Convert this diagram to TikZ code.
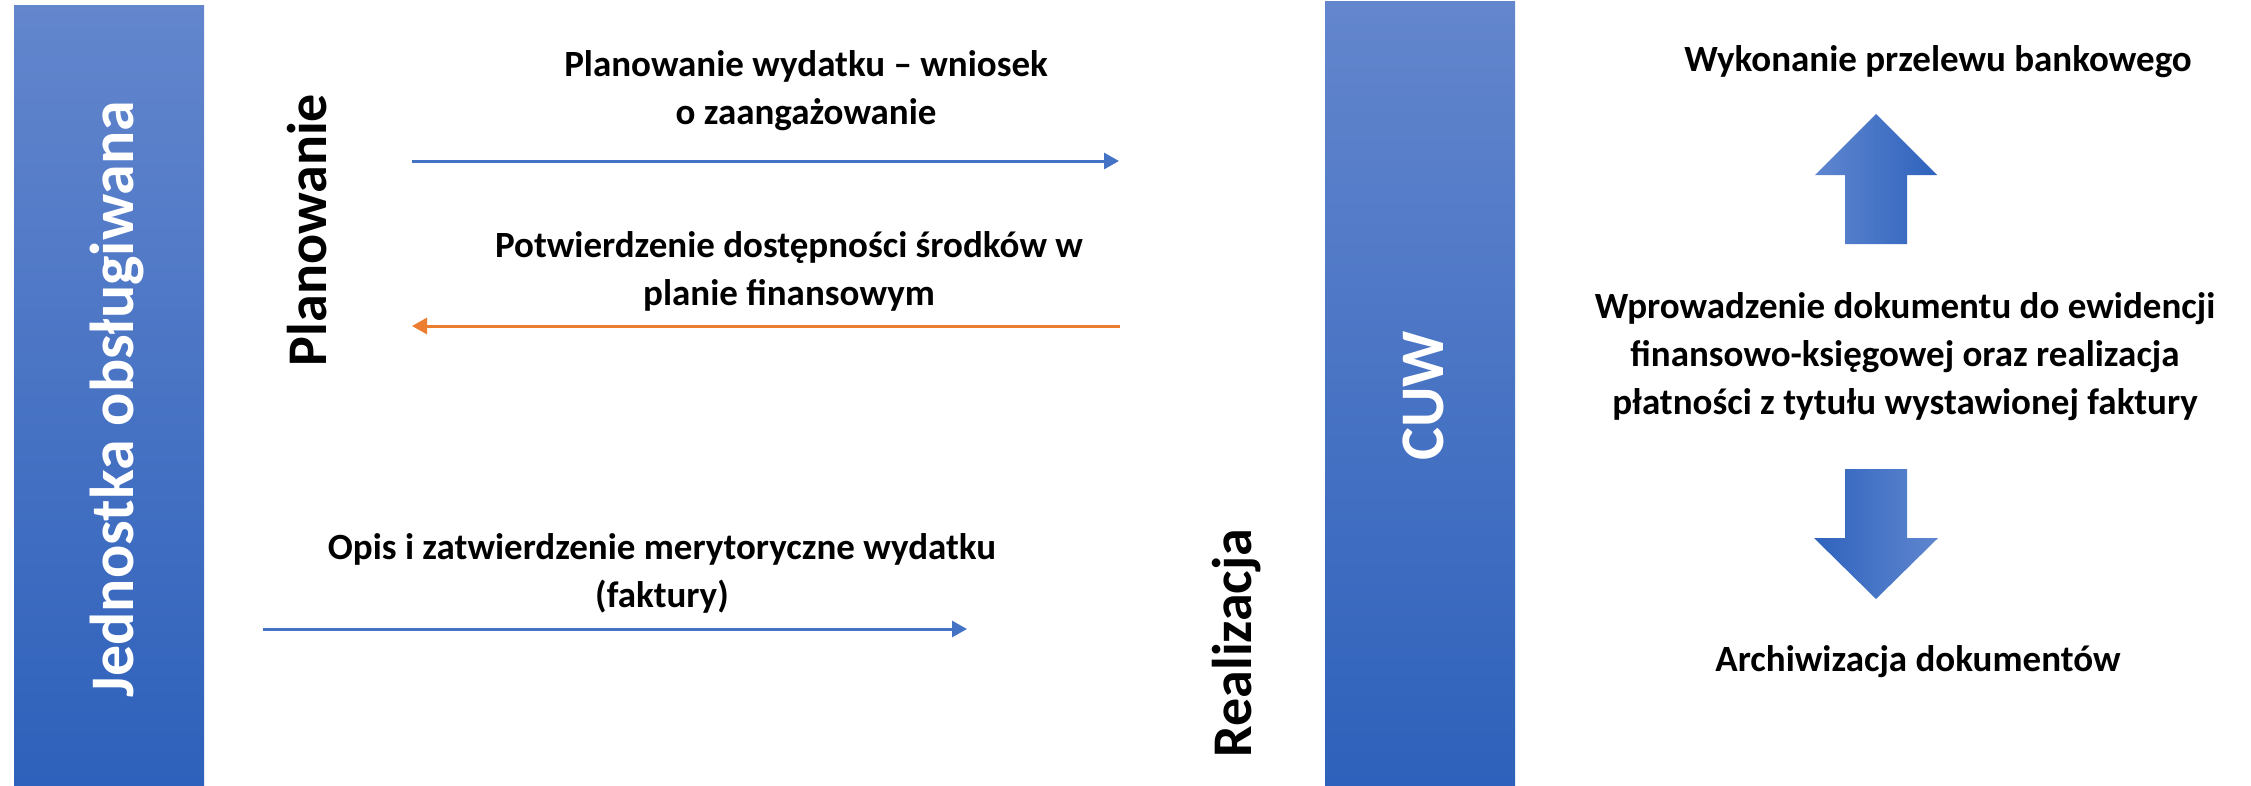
\documentclass[tikz,border=0pt]{standalone}
\usepackage{fontspec}
\setmainfont{Carlito}
\usetikzlibrary{arrows.meta}
\definecolor{bartop}{RGB}{99,134,205}
\definecolor{barbot}{RGB}{46,97,187}
\definecolor{arrlight}{RGB}{95,134,207}
\definecolor{arrdark}{RGB}{47,99,189}
\definecolor{lineblue}{RGB}{68,114,196}
\definecolor{lineorange}{RGB}{237,125,49}
\begin{document}
\begin{tikzpicture}[x=1pt,y=-1pt,
  bar/.style={rectangle, inner sep=0pt, minimum width=190pt, top color=bartop, bottom color=barbot, draw=none},
  bartext/.style={rotate=90, anchor=base, text=white, font=\bfseries\fontsize{62}{70}\selectfont, inner sep=0pt},
  phase/.style={rotate=90, anchor=base, text=black, font=\bfseries\fontsize{56}{60}\selectfont, inner sep=0pt},
  label/.style={align=center, text=black, font=\bfseries\fontsize{37}{48}\selectfont, inner sep=0pt},
  flowblue/.style={draw=lineblue, line width=3pt, -{Triangle[length=15pt,width=16pt]}},
  floworange/.style={draw=lineorange, line width=3pt, -{Triangle[length=15pt,width=16pt]}},
]
\useasboundingbox (0,0) rectangle (2251,785);
\fill[white] (0,0) rectangle (2251,785);

% bars
\node[bar, minimum height=780pt] (jo) at (109,395) {};
\node[bartext] (jotext) at (133,399) {Jednostka obsługiwana};
\node[bar, minimum height=784pt] (cuw) at (1420,393) {};
\node[bartext] (cuwtext) at (1443,396) {CUW};

% phase labels
\node[phase] (plan) at (326,230) {Planowanie};
\node[phase] (real) at (1251,643) {Realizacja};

% horizontal labels
\node[label] (l1) at (806,91) {Planowanie wydatku – wniosek\\o zaangażowanie};
\node[label] (l2) at (789,271) {Potwierdzenie dostępności środków w\\planie finansowym};
\node[label] (l3) at (662,573) {Opis i zatwierdzenie merytoryczne wydatku\\(faktury)};

% connectors
\coordinate (a1s) at (412,161);
\coordinate (a1e) at (1119,161);
\coordinate (a2s) at (1120,326);
\coordinate (a2e) at (412,326);
\coordinate (a3s) at (263,629);
\coordinate (a3e) at (967,629);
\draw[flowblue] (a1s) -- (a1e);
\draw[floworange] (a2s) -- (a2e);
\draw[flowblue] (a3s) -- (a3e);

% right side
\node[label] (r1) at (1938,62) {Wykonanie przelewu bankowego};
\node[label] (r2) at (1905,357) {Wprowadzenie dokumentu do ewidencji\\finansowo-księgowej oraz realizacja\\płatności z tytułu wystawionej faktury};
\node[label] (r3) at (1918,662) {Archiwizacja dokumentów};

\shade[left color=arrlight, right color=arrdark]
  (1876,114) -- (1937,175) -- (1907,175) -- (1907,244) -- (1845,244) -- (1845,175) -- (1815,175) -- cycle;
\shade[left color=arrdark, right color=arrlight]
  (1845,469) -- (1907,469) -- (1907,538) -- (1938,538) -- (1876,599) -- (1814,538) -- (1845,538) -- cycle;
\end{tikzpicture}
\end{document}
